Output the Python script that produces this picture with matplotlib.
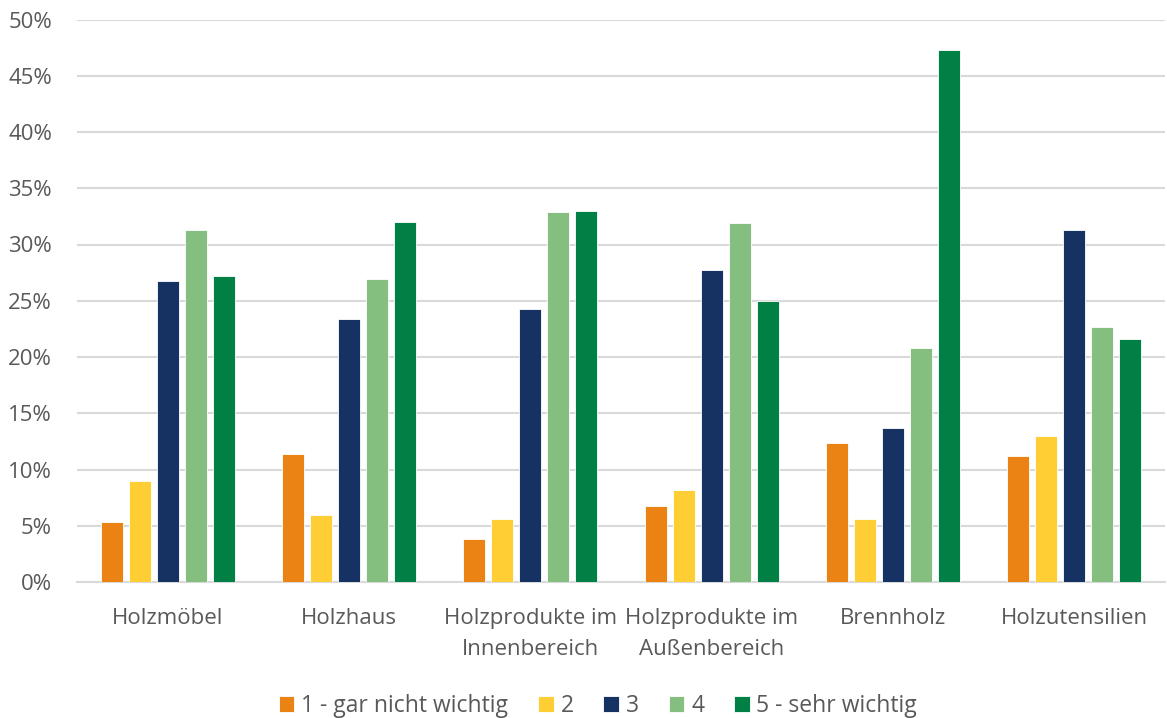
import matplotlib
matplotlib.use("Agg")
import matplotlib.pyplot as plt
import numpy as np

categories = ["Holzmöbel", "Holzhaus", "Holzprodukte im\nInnenbereich",
              "Holzprodukte im\nAußenbereich", "Brennholz", "Holzutensilien"]
series_names = ["1 - gar nicht wichtig", "2", "3", "4", "5 - sehr wichtig"]
s1 = [5.3, 11.4, 3.8, 6.8, 12.4, 11.2]
s2 = [9.0, 6.0, 5.6, 8.2, 5.6, 13.0]
s3 = [26.8, 23.4, 24.3, 27.7, 13.7, 31.3]
s4 = [31.3, 26.9, 32.9, 31.9, 20.8, 22.7]
s5 = [27.2, 32.0, 33.0, 25.0, 47.3, 21.6]
colors = ["#EA8214", "#FFCD34", "#153263", "#85BF7F", "#008044"]
yticks = [0, 5, 10, 15, 20, 25, 30, 35, 40, 45, 50]

plt.rcParams['font.family'] = ['Open Sans', 'DejaVu Sans']
fig = plt.figure(figsize=(11.67, 7.18), dpi=100)
ax = fig.add_axes([77/1167, 136/718, (1165-77)/1167, (582-19.5)/718])

data = [s1, s2, s3, s4, s5]
x = np.arange(len(categories))
slot = 0.1544
width = 0.123
for i, (vals, c, name) in enumerate(zip(data, colors, series_names)):
    ax.bar(x + (i - 2) * slot, [v / 100 for v in vals], width=width, color=c,
           edgecolor="white", linewidth=0.6, label=name, zorder=3)

ax.set_xlim(-0.5, len(categories) - 0.5)
ax.set_ylim(0, 0.5)
ax.set_yticks([t / 100 for t in yticks])
ax.set_yticklabels([f"{t}%" for t in yticks])
ax.grid(axis="y", color="#D9D9D9", linewidth=1.5, zorder=0)
for s in ["top", "right", "left"]:
    ax.spines[s].set_visible(False)
ax.spines["bottom"].set_color("#D9D9D9")
ax.spines["bottom"].set_linewidth(1.5)
ax.set_xticks(x)
ax.set_xticklabels(categories, linespacing=1.62)
ax.tick_params(axis="both", length=0, colors="#595959", labelsize=16)
ax.tick_params(axis="y", pad=18)
ax.tick_params(axis="x", pad=19)

leg = fig.legend(loc="center", bbox_to_anchor=(598/1167, 12/718), ncol=5, frameon=False,
                 fontsize=16.5, handlelength=0.68, handleheight=0.68, handletextpad=0.3,
                 columnspacing=1.3, labelcolor="#595959")
fig.savefig("out.png", dpi=100)
